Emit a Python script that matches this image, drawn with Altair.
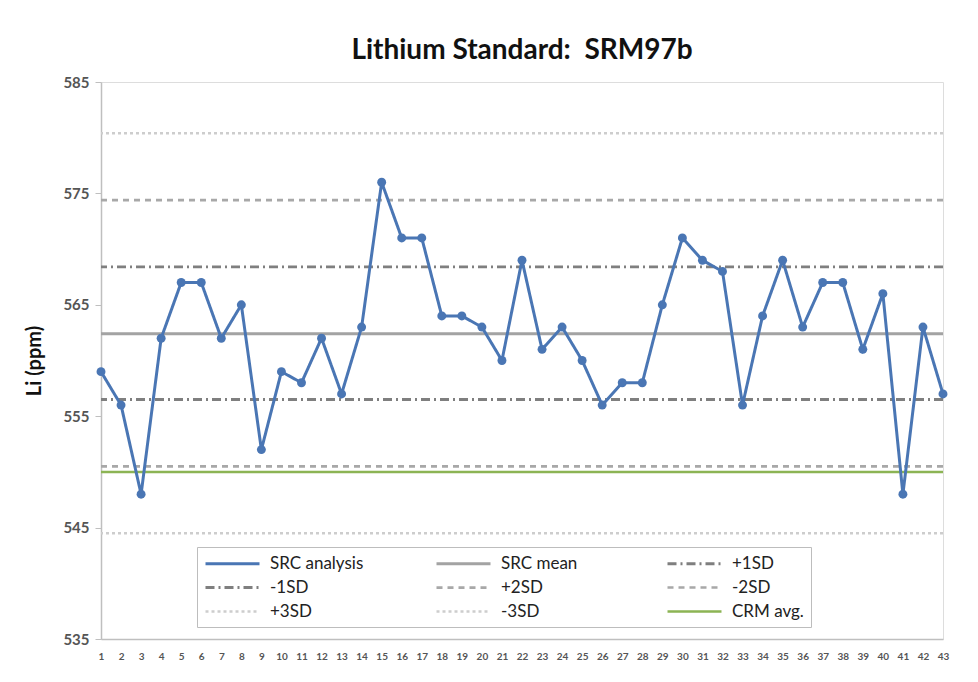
import altair as alt
import pandas as pd

# ---- data ----
sample_no = list(range(1, 44))
li_ppm = [559, 556, 548, 562, 567, 567, 562, 565, 552, 559,
          558, 562, 557, 563, 576, 571, 571, 564, 564, 563,
          560, 569, 561, 563, 560, 556, 558, 558, 565, 571,
          569, 568, 556, 564, 569, 563, 567, 567, 561, 566,
          548, 563, 557]

ref_names = ["SRC mean", "+1SD", "-1SD", "+2SD", "-2SD", "+3SD", "-3SD", "CRM avg."]
ref_values = [562.4, 568.4, 556.5, 574.4, 550.5, 580.4, 544.5, 550.0]

series_order = ["SRC analysis", "SRC mean", "+1SD", "-1SD", "+2SD", "-2SD",
                "+3SD", "-3SD", "CRM avg."]
series_colors = ["#4a76b4", "#a3a3a3", "#7f7f7f", "#7f7f7f", "#a8a8a8", "#a8a8a8",
                 "#cdcdcd", "#cdcdcd", "#8cb454"]
series_dash = [[1, 0], [1, 0], [9, 4, 2, 4], [9, 4, 2, 4], [6, 5], [6, 5],
               [3, 3], [3, 3], [1, 0]]
series_width = [3, 2.5, 2, 2, 1.6, 1.6, 1.4, 1.4, 3]

y_ticks = [535, 545, 555, 565, 575, 585]

FONT = "Lato"

analysis = pd.DataFrame({"sample": sample_no, "li": li_ppm, "series": "SRC analysis"})
refs = pd.DataFrame({"series": ref_names, "li": ref_values})

color_scale = alt.Scale(domain=series_order, range=series_colors)
dash_scale = alt.Scale(domain=series_order, range=series_dash)
width_scale = alt.Scale(domain=series_order, range=series_width)

legend = alt.Legend(
    title=None, orient="none", legendX=96, legendY=465, columns=3,
    direction="horizontal", gridAlign="all", columnPadding=66, rowPadding=6,
    symbolType="M-1,0H5.75", symbolSize=256, labelFontSize=17, labelFont=FONT,
    labelColor="#222222", labelOffset=47, padding=7,
    strokeColor="#bdbdbd", fillColor="#ffffff", labelLimit=300,
)

y_enc = alt.Y("li:Q", scale=alt.Scale(domain=[535, 585], nice=False, zero=False),
              axis=alt.Axis(values=y_ticks, title="Li (ppm)", grid=False,
                            titleFontSize=20, titleFontWeight="bold", titleFont=FONT,
                            titleColor="#111111", titlePadding=18,
                            labelFontSize=15, labelFont=FONT, labelColor="#555555",
                            labelFontWeight="bold",
                            tickSize=6, tickColor="#bfbfbf", labelPadding=6,
                            domainColor="#bfbfbf", domainWidth=1.5))

rules = alt.Chart(refs).mark_rule().encode(
    y=y_enc,
    color=alt.Color("series:N", scale=color_scale, legend=legend),
    strokeDash=alt.StrokeDash("series:N", scale=dash_scale, legend=legend),
    strokeWidth=alt.StrokeWidth("series:N", scale=width_scale, legend=legend),
)

x_enc = alt.X("sample:O", scale=alt.Scale(type="point", padding=0),
              axis=alt.Axis(title=None, labelAngle=0, labelFontSize=10, labelFont=FONT,
                            labelColor="#555555", labelFontWeight="bold",
                            tickSize=0, labelPadding=12, grid=False,
                            domainColor="#bfbfbf", domainWidth=1.5))

line = alt.Chart(analysis).mark_line().encode(
    x=x_enc, y="li:Q",
    color=alt.Color("series:N", scale=color_scale, legend=legend),
    strokeDash=alt.StrokeDash("series:N", scale=dash_scale, legend=legend),
    strokeWidth=alt.StrokeWidth("series:N", scale=width_scale, legend=legend),
)

points = alt.Chart(analysis).mark_circle(size=80, opacity=1).encode(
    x="sample:O", y="li:Q",
    color=alt.Color("series:N", scale=color_scale, legend=legend),
)

chart = alt.layer(rules, line, points).properties(
    width=842, height=557,
    title=alt.Title("Lithium Standard:\u00a0 SRM97b", fontSize=28, font=FONT,
                    fontWeight="bold", color="#111111", offset=10, anchor="middle"),
    autosize=alt.AutoSizeParams(type="none"),
    padding={"left": 93, "top": 74, "right": 27, "bottom": 35},
).configure_view(stroke="#d6d6d6", strokeWidth=1.5).configure(background="white")

chart.save("out.html", embed_options={"renderer": "svg", "actions": False})
